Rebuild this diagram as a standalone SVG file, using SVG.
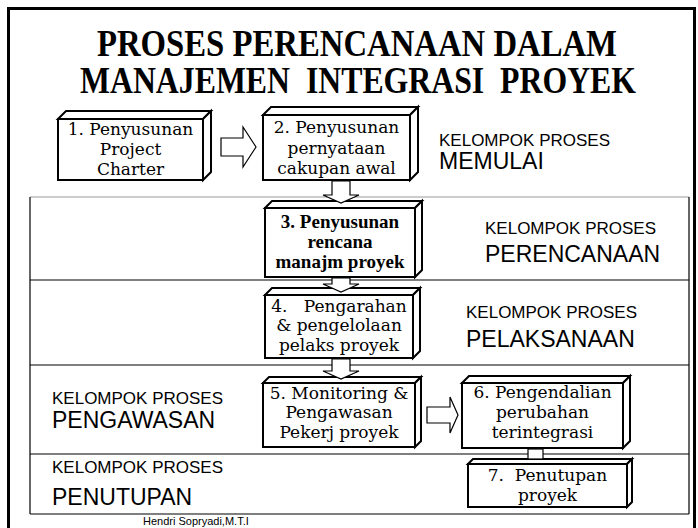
<svg xmlns="http://www.w3.org/2000/svg" width="698" height="528" viewBox="0 0 698 528">
<style>
.face{fill:#fff;stroke:#000;stroke-width:2;stroke-linejoin:miter}
.bt{font-family:"DejaVu Serif","Liberation Serif",serif;font-size:17px;fill:#000;text-anchor:middle}
.bb{font-family:"Liberation Serif",serif;font-size:19px;font-weight:bold;fill:#000;text-anchor:middle}
.k{font-family:"Liberation Sans",Arial,sans-serif;font-size:17px;fill:#000}
.g{font-family:"Liberation Sans",Arial,sans-serif;font-size:23px;fill:#000}
.conn{fill:#fff;stroke:#000;stroke-width:1.2;stroke-linejoin:miter}
.band{stroke:#000;stroke-width:1.2;fill:none}
</style>
<rect x="0" y="0" width="698" height="528" fill="#fff"/>
<rect x="8.5" y="8.5" width="686" height="540" fill="none" stroke="#000" stroke-width="3"/>
<g id="title" font-family="Liberation Serif,serif" font-weight="bold" font-size="37" text-anchor="middle" fill="#000">
<text x="357" y="56" textLength="520" lengthAdjust="spacingAndGlyphs">PROSES PERENCANAAN DALAM</text>
<text x="358" y="93" textLength="556" lengthAdjust="spacingAndGlyphs" style="white-space:pre">MANAJEMEN  INTEGRASI  PROYEK</text>
</g>
<g id="bands">
<line x1="30" y1="197" x2="689" y2="197" stroke="#999" stroke-width="1.2"/>
<line class="band" x1="30" y1="280" x2="689" y2="280"/>
<line class="band" x1="30" y1="365" x2="689" y2="365"/>
<line class="band" x1="30" y1="454" x2="689" y2="454"/>
<line class="band" x1="30" y1="514" x2="689" y2="514"/>
<line class="band" x1="30" y1="197" x2="30" y2="514"/>
<line class="band" x1="689" y1="197" x2="689" y2="514"/>
</g>
<g id="labels">
<g id="lbl-memulai"><text class="k" x="439" y="146">KELOMPOK PROSES</text><text class="g" x="439" y="169">MEMULAI</text></g>
<g id="lbl-perencanaan"><text class="k" x="485" y="234">KELOMPOK PROSES</text><text class="g" x="485" y="262">PERENCANAAN</text></g>
<g id="lbl-pelaksanaan"><text class="k" x="466" y="318">KELOMPOK PROSES</text><text class="g" x="466" y="347">PELAKSANAAN</text></g>
<g id="lbl-pengawasan"><text class="k" x="52" y="404">KELOMPOK PROSES</text><text class="g" x="52" y="428">PENGAWASAN</text></g>
<g id="lbl-penutupan"><text class="k" x="52" y="473">KELOMPOK PROSES</text><text class="g" x="52" y="505">PENUTUPAN</text></g>
</g>
<g id="node1">
<rect class="face" x="58" y="119" width="145" height="61"/>
<polygon class="face" points="58,119 66,111 211,111 203,119"/>
<polygon class="face" points="203,119 211,111 211,172 203,180"/>
<text class="bt" x="130.5" y="135">1. Penyusunan</text>
<text class="bt" x="130.5" y="155">Project</text>
<text class="bt" x="130.5" y="175">Charter</text>
</g>
<g id="node2">
<rect class="face" x="263" y="115" width="147" height="65"/>
<polygon class="face" points="263,115 271,107 418,107 410,115"/>
<polygon class="face" points="410,115 418,107 418,172 410,180"/>
<text class="bt" x="336.5" y="133">2. Penyusunan</text>
<text class="bt" x="336.5" y="154">pernyataan</text>
<text class="bt" x="336.5" y="174">cakupan awal</text>
</g>
<g id="node3">
<rect class="face" x="265" y="208" width="150" height="69"/>
<polygon class="face" points="265,208 272,201 422,201 415,208"/>
<polygon class="face" points="415,208 422,201 422,270 415,277"/>
<text class="bb" x="340" y="228">3. Penyusunan</text>
<text class="bb" x="340" y="248">rencana</text>
<text class="bb" x="340" y="268">manajm proyek</text>
</g>
<g id="node4">
<rect class="face" x="265" y="295" width="148" height="63"/>
<polygon class="face" points="265,295 272,288 420,288 413,295"/>
<polygon class="face" points="413,295 420,288 420,351 413,358"/>
<text class="bt" x="339" y="312" style="white-space:pre">4.   Pengarahan</text>
<text class="bt" x="339" y="331">&amp; pengelolaan</text>
<text class="bt" x="339" y="351">pelaks proyek</text>
</g>
<g id="node5">
<rect class="face" x="263" y="383" width="152" height="64"/>
<polygon class="face" points="263,383 269,377 421,377 415,383"/>
<polygon class="face" points="415,383 421,377 421,441 415,447"/>
<text class="bt" x="339" y="399">5. Monitoring &amp;</text>
<text class="bt" x="339" y="418">Pengawasan</text>
<text class="bt" x="339" y="438">Pekerj proyek</text>
</g>
<g id="node6">
<rect class="face" x="462" y="383" width="161" height="65"/>
<polygon class="face" points="462,383 469,376 630,376 623,383"/>
<polygon class="face" points="623,383 630,376 630,441 623,448"/>
<text class="bt" x="542.5" y="398">6. Pengendalian</text>
<text class="bt" x="542.5" y="418">perubahan</text>
<text class="bt" x="542.5" y="438">terintegrasi</text>
</g>
<g id="node7">
<rect class="face" x="468" y="464" width="159" height="43"/>
<polygon class="face" points="468,464 473,459 632,459 627,464"/>
<polygon class="face" points="627,464 632,459 632,502 627,507"/>
<text class="bt" x="547.5" y="481" style="white-space:pre">7.  Penutupan</text>
<text class="bt" x="547.5" y="501">proyek</text>
</g>
<g id="connectors">
<polygon class="conn" points="221,138 243,138 243,127 256,147 243,167 243,156 221,156"/>
<polygon class="conn" points="332,181 350,181 350,195 359,195 341,203 323,195 332,195"/>
<polygon class="conn" points="332,278 350,278 350,284 359,284 341,292 323,284 332,284"/>
<polygon class="conn" points="332,359 350,359 350,371 359,371 341,379 323,371 332,371"/>
<polygon class="conn" points="427,407 450,407 450,397 458,415 450,433 450,423 427,423"/>
<rect class="conn" x="528" y="449" width="15" height="10"/>
</g>
<text x="143" y="525" font-family="Liberation Sans,Arial,sans-serif" font-size="11" fill="#000">Hendri Sopryadi,M.T.I</text>
</svg>
